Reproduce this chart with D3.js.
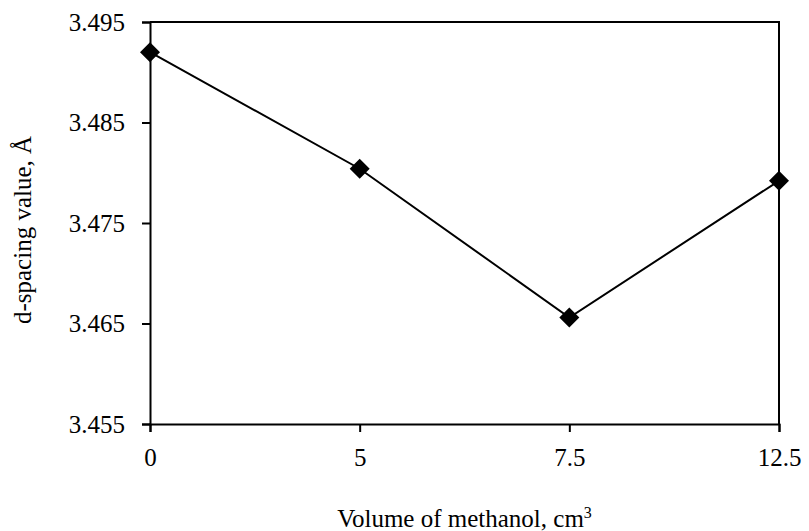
<!DOCTYPE html>
<html>
<head>
<meta charset="utf-8">
<script src="https://cdn.jsdelivr.net/npm/d3@7"></script>
<style>
  body { margin: 0; background: #fff; }
</style>
</head>
<body>
<div id="dspacing"></div>
<script>
// data
const methanolVolumes = ["0", "5", "7.5", "12.5"];
const dSpacing = [3.4920, 3.4804, 3.4656, 3.4792];
const yTicks = [3.455, 3.465, 3.475, 3.485, 3.495];

// set the dimensions and margins of the graph
const margin = { top: 22, right: 30, bottom: 107, left: 150 },
    width = 809 - margin.left - margin.right,
    height = 531 - margin.top - margin.bottom;

const svg = d3.select("#dspacing")
    .append("svg")
    .attr("width", width + margin.left + margin.right)
    .attr("height", height + margin.top + margin.bottom)
    .append("g")
    .attr("transform", `translate(${margin.left},${margin.top})`);

const font = "'Liberation Serif', 'Times New Roman', serif";

// X axis: categories evenly spaced
const x = d3.scalePoint()
    .domain(methanolVolumes)
    .range([0, width]);

// Y axis
const y = d3.scaleLinear()
    .domain([3.455, 3.495])
    .range([height, 0]);

// top and right border of the box
svg.append("path")
    .attr("d", `M0,0H${width}V${height}`)
    .attr("fill", "none")
    .attr("stroke", "black")
    .attr("stroke-width", 2);

const xAxis = svg.append("g")
    .attr("transform", `translate(0, ${height})`)
    .call(d3.axisBottom(x).tickSizeOuter(0).tickSize(8).tickPadding(16));

const yAxis = svg.append("g")
    .call(d3.axisLeft(y).tickValues(yTicks).tickFormat(d3.format(".3f"))
        .tickSizeOuter(0).tickSize(8).tickPadding(17));

[xAxis, yAxis].forEach(function (ax) {
    ax.selectAll("path, line")
        .attr("stroke", "black")
        .attr("stroke-width", 2);
    ax.selectAll("text")
        .attr("fill", "black")
        .style("font-family", font)
        .style("font-size", "25px");
});

// the line
const line = d3.line()
    .x((d, i) => x(methanolVolumes[i]))
    .y(d => y(d));

svg.append("path")
    .datum(dSpacing)
    .attr("d", line)
    .attr("fill", "none")
    .attr("stroke", "black")
    .attr("stroke-width", 2);

// diamond markers
svg.selectAll(".marker")
    .data(dSpacing)
    .join("path")
    .attr("class", "marker")
    .attr("d", d3.symbol().type(d3.symbolSquare).size(200))
    .attr("transform", (d, i) => `translate(${x(methanolVolumes[i])},${y(d)}) rotate(45)`)
    .attr("fill", "black");

// axis titles
const xTitle = svg.append("text")
    .attr("x", width / 2)
    .attr("y", height + 103)
    .attr("text-anchor", "middle")
    .attr("fill", "black")
    .style("font-family", font)
    .style("font-size", "25px");
xTitle.append("tspan").text("Volume of methanol, cm");
xTitle.append("tspan")
    .attr("dy", "-9")
    .style("font-size", "16px")
    .text("3");

svg.append("text")
    .attr("transform", "rotate(-90)")
    .attr("x", -(230 - margin.top))
    .attr("y", 31 - margin.left)
    .attr("text-anchor", "middle")
    .attr("fill", "black")
    .style("font-family", font)
    .style("font-size", "25px")
    .text("d-spacing value, Å");
</script>
</body>
</html>
